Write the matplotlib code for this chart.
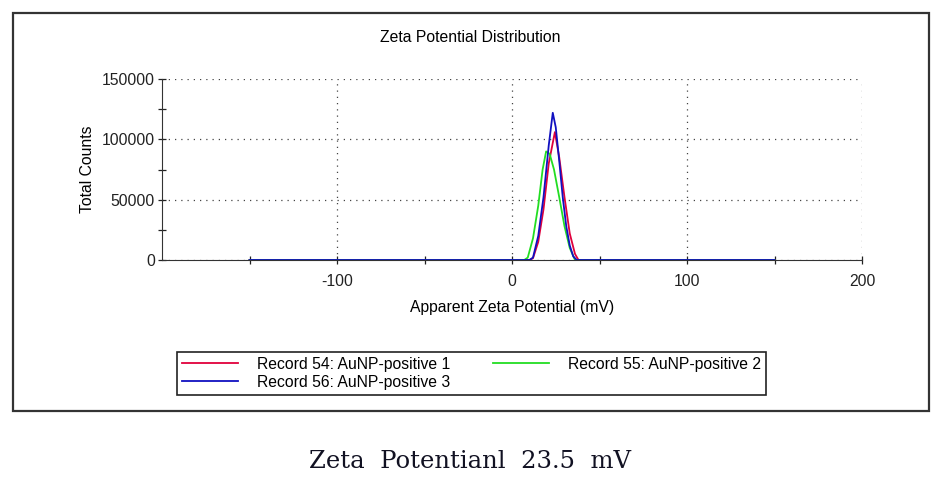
import matplotlib.pyplot as plt
from matplotlib.patches import Rectangle

# zeta potential (mV) vs total counts
rec54_x = [-150, 10, 12, 15, 18, 21, 24.5, 27, 30, 33, 36, 38, 150]
rec54_y = [0, 0, 1500, 15000, 42000, 80000, 106000, 85000, 52000, 22000, 5000, 0, 0]

rec55_x = [-150, 7, 9, 12, 15, 17.5, 19.5, 21.5, 24, 27, 30, 33, 36, 150]
rec55_y = [0, 0, 2000, 18000, 45000, 75000, 90000, 88000, 75000, 52000, 28000, 10000, 0, 0]

rec56_x = [-150, 10, 12, 15, 18, 21, 23.3, 25, 27, 29, 31, 33, 35, 37, 150]
rec56_y = [0, 0, 2000, 20000, 52000, 95000, 122000, 110000, 82000, 52000, 28000, 12000, 3000, 0, 0]

labels = ["Record 54: AuNP-positive 1", "Record 55: AuNP-positive 2",
          "Record 56: AuNP-positive 3"]
x_ticks = [-100, 0, 100, 200]
y_ticks = [0, 50000, 100000, 150000]

plt.rcParams['font.family'] = ['Liberation Sans', 'DejaVu Sans']
plt.rcParams['axes.unicode_minus'] = False
fs = 11.3

fig = plt.figure(figsize=(9.43, 4.91), dpi=100)
ax = fig.add_axes([162 / 943, 1 - 260 / 491, 700 / 943, 181 / 491])

l1, = ax.plot(rec54_x, rec54_y, color='#e0003c', lw=1.3)
l2, = ax.plot(rec55_x, rec55_y, color='#22dd22', lw=1.3)
l3, = ax.plot(rec56_x, rec56_y, color='#1010c0', lw=1.3)

ax.set_xlim(-200, 200)
ax.set_ylim(0, 150000)
ax.set_xticks(x_ticks)
ax.set_xticks([-150, -50, 50, 150], minor=True)
ax.set_yticks(y_ticks)
ax.set_yticks([25000, 75000, 125000], minor=True)
ax.set_yticklabels([str(v) for v in y_ticks])
ax.tick_params(which='both', direction='inout', length=6, width=0.9,
               labelsize=fs, colors='#222222')
ax.tick_params(axis='x', pad=7)
ax.tick_params(axis='y', pad=2)
ax.grid(True, which='major', linestyle=(0, (1, 4)), color='#444444', lw=0.9)
for s in ['top', 'right']:
    ax.spines[s].set_visible(False)
for s in ['left', 'bottom']:
    ax.spines[s].set_color('#333333')

ax.set_xlabel("Apparent Zeta Potential (mV)", fontsize=fs, labelpad=8)
ax.set_ylabel("Total Counts", fontsize=fs, labelpad=5)
fig.text(470 / 943, 1 - 38 / 491, "Zeta Potential Distribution",
         ha='center', va='center', fontsize=fs)

leg = fig.legend([l1, l3, l2], [labels[0], labels[2], labels[1]], ncol=2,
                 loc='upper left', mode='expand', borderaxespad=0,
                 bbox_to_anchor=(177 / 943, 1 - 393 / 491, 589 / 943, 41 / 491),
                 fontsize=fs, handlelength=3.6, handletextpad=1.2,
                 labelspacing=0.2, borderpad=0.3, fancybox=False,
                 edgecolor='#222222', framealpha=1)
leg.get_frame().set_linewidth(1.2)

fig.patches.append(Rectangle((13 / 943, 1 - 411 / 491), 916 / 943, 398 / 491,
                             transform=fig.transFigure, fill=False,
                             edgecolor='#333333', lw=1.6))

fig.text(470 / 943, 1 - 462 / 491, "Zeta  Potentianl  23.5  mV",
         ha='center', va='center', fontsize=17.5, family='DejaVu Serif',
         color='#111122')

fig.savefig('out.png', dpi=100)
